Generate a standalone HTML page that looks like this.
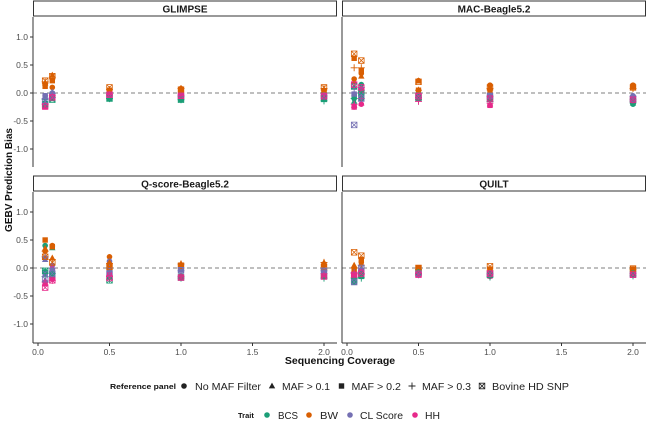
<!DOCTYPE html>
<html><head><meta charset="utf-8"><style>
body{margin:0;background:#fff;font-family:"Liberation Sans",sans-serif}
svg{display:block}
</style></head><body>
<svg id="chart" width="647" height="422" xmlns="http://www.w3.org/2000/svg"></svg>
<script>
const coverages=[0.05,0.1,0.5,1,2];
const facetNames=["GLIMPSE","MAC-Beagle5.2","Q-score-Beagle5.2","QUILT"];
const traitNames=["BCS","BW","CL Score","HH"];
const refNames=["No MAF Filter","MAF > 0.1","MAF > 0.2","MAF > 0.3","Bovine HD SNP"];
const xTicks=[0,0.5,1,1.5,2];
const yTicks=[1,0.5,0,-0.5,-1];
// values[trait][ref] = per coverage
const glimpseVals=[
 [[-0.18,-0.08,-0.1,-0.12,-0.1],[-0.15,-0.1,-0.08,-0.1,-0.12],[-0.2,-0.1,-0.1,-0.1,-0.1],[-0.12,-0.08,-0.1,-0.12,-0.14],[-0.2,-0.12,-0.1,-0.12,-0.1]],
 [[0.15,0.1,0.05,0.08,0.05],[0.18,0.32,0.05,0.07,0.05],[0.12,0.22,0.05,0.05,0.04],[0.2,0.28,0.06,0.08,0.08],[0.22,0.3,0.1,0.06,0.1]],
 [[-0.05,0.0,-0.05,-0.05,-0.05],[-0.08,0.02,-0.05,-0.04,-0.06],[-0.05,-0.02,-0.04,-0.05,-0.05],[-0.1,0.0,-0.05,-0.06,-0.05],[-0.15,-0.05,-0.03,-0.05,-0.05]],
 [[-0.22,-0.05,-0.02,-0.05,-0.06],[-0.2,-0.06,-0.03,-0.05,-0.08],[-0.25,-0.08,-0.04,-0.06,-0.07],[-0.2,-0.05,-0.03,-0.04,-0.05],[-0.24,-0.08,-0.03,-0.05,-0.06]]];
const macVals=[
 [[-0.1,0.15,-0.1,-0.1,-0.2],[-0.15,0.1,-0.1,-0.12,-0.18],[-0.05,-0.1,-0.05,-0.08,-0.15],[-0.1,0.05,-0.12,-0.15,-0.16],[0.12,0.0,-0.08,-0.1,-0.14]],
 [[0.25,0.35,0.22,0.14,0.14],[0.2,0.3,0.22,0.1,0.1],[0.62,0.4,0.05,0.05,0.12],[0.45,0.45,0.05,0.08,0.08],[0.7,0.58,0.2,0.1,0.1]],
 [[-0.05,0.05,-0.02,-0.05,-0.05],[0.1,-0.08,-0.05,-0.08,-0.1],[-0.02,0.0,-0.04,-0.05,-0.08],[0.0,0.1,-0.08,-0.06,-0.06],[-0.57,-0.1,-0.05,-0.05,-0.1]],
 [[-0.25,-0.2,-0.1,-0.22,-0.12],[-0.22,-0.18,-0.08,-0.2,-0.1],[-0.25,0.05,-0.1,-0.22,-0.14],[-0.2,-0.1,-0.15,-0.18,-0.12],[0.15,0.1,-0.06,-0.1,-0.12]]];
const qscoreVals=[
 [[0.4,0.38,-0.05,-0.15,-0.1],[-0.05,0.36,-0.1,-0.18,-0.12],[-0.08,-0.1,-0.15,-0.15,-0.15],[-0.15,-0.1,-0.2,-0.18,-0.18],[-0.05,-0.12,-0.22,-0.17,-0.15]],
 [[0.3,0.4,0.2,0.05,0.05],[0.35,0.18,0.1,0.08,0.1],[0.5,0.38,0.05,0.05,0.06],[0.3,0.15,0.08,0.07,0.1],[0.2,0.1,0.02,0.04,0.02]],
 [[0.18,0.05,0.12,-0.02,-0.05],[0.15,0.02,0.05,0.0,-0.08],[-0.1,-0.05,-0.05,-0.03,-0.06],[0.2,0.0,0.0,-0.05,-0.05],[-0.2,-0.1,-0.1,-0.04,-0.05]],
 [[-0.25,-0.2,-0.15,-0.15,-0.12],[-0.22,0.02,-0.1,-0.16,-0.15],[-0.28,-0.18,-0.12,-0.16,-0.14],[-0.25,-0.22,-0.15,-0.15,-0.1],[-0.35,-0.22,-0.18,-0.17,-0.15]]];
const quiltVals=[
 [[-0.2,-0.12,-0.08,-0.15,-0.12],[-0.15,-0.1,-0.1,-0.12,-0.1],[-0.25,-0.15,-0.1,-0.14,-0.12],[-0.18,-0.18,-0.1,-0.16,-0.14],[-0.22,-0.12,-0.08,-0.12,-0.1]],
 [[0.0,0.1,0.0,-0.02,-0.02],[0.05,0.08,-0.02,-0.03,-0.02],[-0.05,0.15,0.0,-0.02,-0.02],[0.0,0.05,-0.03,-0.05,-0.03],[0.28,0.22,0.0,0.03,-0.01]],
 [[-0.1,-0.05,-0.1,-0.08,-0.1],[-0.12,0.0,-0.08,-0.1,-0.12],[-0.15,-0.05,-0.1,-0.1,-0.12],[-0.08,-0.1,-0.12,-0.1,-0.1],[-0.25,0.0,-0.1,-0.1,-0.12]],
 [[-0.1,-0.08,-0.12,-0.12,-0.1],[-0.12,-0.1,-0.1,-0.1,-0.12],[-0.15,-0.06,-0.12,-0.14,-0.12],[-0.1,-0.12,-0.1,-0.12,-0.1],[-0.12,-0.1,-0.12,-0.1,-0.12]]];
const facetVals=[glimpseVals,macVals,qscoreVals,quiltVals];
const colors=["#1b9e77","#d95f02","#7570b3","#e7298a"];
const NS="http://www.w3.org/2000/svg";
const svg=document.getElementById("chart");
function mk(tag,attrs,parent){const e=document.createElementNS(NS,tag);for(const k in attrs)e.setAttribute(k,attrs[k]);(parent||svg).appendChild(e);return e;}
const panels=[{x0:33,x1:337,y0:17,y1:167},{x0:342,x1:646,y0:17,y1:167},{x0:33,x1:337,y0:192,y1:343},{x0:342,x1:646,y0:192,y1:343}];
function xs(p,v){return p.x0+5+v*143;}
function ys(p,v){return (p.y0===17?93:268)-v*56;}
function shape(g,r,cx,cy,col){
  let e;
  if(r===0)e=mk("circle",{cx,cy,r:2.8,fill:col},g);
  else if(r===1)e=mk("polygon",{points:`${cx},${cy-3.4} ${cx+3.2},${cy+2.4} ${cx-3.2},${cy+2.4}`,fill:col},g);
  else if(r===2)e=mk("rect",{x:cx-2.7,y:cy-2.7,width:5.4,height:5.4,fill:col},g);
  else if(r===3)e=mk("path",{d:`M${cx-3.5},${cy}H${cx+3.5}M${cx},${cy-3.5}V${cy+3.5}`,stroke:col,"stroke-width":0.9,fill:"none"},g);
  else e=mk("path",{d:`M${cx-2.8},${cy-2.8}h5.6v5.6h-5.6zM${cx-2.8},${cy-2.8}l5.6,5.6M${cx+2.8},${cy-2.8}l-5.6,5.6`,stroke:col,"stroke-width":0.8,fill:"none"},g);
  
  
}
panels.forEach((p,i)=>{
  const g=mk("g",{});
  
  
  const st=mk("rect",{x:p.x0+0.5,y:p.y0-16,width:p.x1-p.x0-1,height:15,fill:"#fff",stroke:"#333","stroke-width":1},g);
  
  
  const tt=mk("text",{x:(p.x0+p.x1)/2,y:p.y0-4.5,"text-anchor":"middle","font-size":"10","font-weight":"bold",fill:"#1a1a1a"},g);
  tt.textContent=facetNames[i];
  
  
  mk("line",{x1:p.x0,x2:p.x1,y1:ys(p,0),y2:ys(p,0),stroke:"#555","stroke-dasharray":"4,3","stroke-width":0.8},g);
  mk("line",{x1:p.x0,x2:p.x0,y1:p.y0,y2:p.y1,stroke:"#333","stroke-width":1},g);
  if(i%2===0){yTicks.forEach(t=>{const y=ys(p,t);mk("line",{x1:p.x0-3,x2:p.x0,y1:y,y2:y,stroke:"#333"},g);
    const tx=mk("text",{x:p.x0-5,y:y+3,"text-anchor":"end","font-size":"8.5",fill:"#4d4d4d"},g);tx.textContent=t.toFixed(1);
    });}
  if(i>=2){mk("line",{x1:p.x0,x2:p.x1,y1:p.y1,y2:p.y1,stroke:"#333"},g);
    xTicks.forEach(t=>{const x=xs(p,t);mk("line",{x1:x,x2:x,y1:p.y1,y2:p.y1+3,stroke:"#333"},g);
    const tx=mk("text",{x:x,y:p.y1+12,"text-anchor":"middle","font-size":"8.5",fill:"#4d4d4d"},g);tx.textContent=t.toFixed(1);
    });}
  const vals=facetVals[i];
  for(let r=0;r<5;r++)for(let t=0;t<4;t++)vals[t][r].forEach((v,c)=>shape(g,r,xs(p,coverages[c]),ys(p,v),colors[t]));
});
function txt(x,y,s,attrs,name){const e=mk("text",Object.assign({x,y},attrs));e.textContent=s;return e;}
txt(340,364,"Sequencing Coverage",{"text-anchor":"middle","font-size":"10.5","font-weight":"bold",fill:"#111"},"x-axis-title");
txt(0,0,"GEBV Prediction Bias",{"text-anchor":"middle","font-size":"10","font-weight":"bold",fill:"#111",transform:"translate(12,180) rotate(-90)"},"y-axis-title");
// legends
txt(110,389,"Reference panel",{"font-size":"7.5","font-weight":"bold",fill:"#111",textLength:"66",lengthAdjust:"spacingAndGlyphs"},"legend-title-reference");
const refX=[184,272,341.5,412,482];
const refTextX=[195,282,351.5,422,492];
const refTextW=[66,48,49.5,49,77];
refNames.forEach((n,k)=>{shape(svg,k,refX[k],386,"#222");txt(refTextX[k],390,n,{"font-size":"10.5",fill:"#222",textLength:refTextW[k],lengthAdjust:"spacingAndGlyphs"},"legend-entry");});
txt(238,418,"Trait",{"font-size":"7.5","font-weight":"bold",fill:"#111"},"legend-title-trait");
const trX=[267,309,350,415];
const trTextX=[278,320,360,425];
const trTextW=[20,18,43,15];
traitNames.forEach((n,k)=>{shape(svg,0,trX[k],415,colors[k]);txt(trTextX[k],419,n,{"font-size":"10.5",fill:"#222",textLength:trTextW[k],lengthAdjust:"spacingAndGlyphs"},"legend-entry");});
</script>
</body></html>
